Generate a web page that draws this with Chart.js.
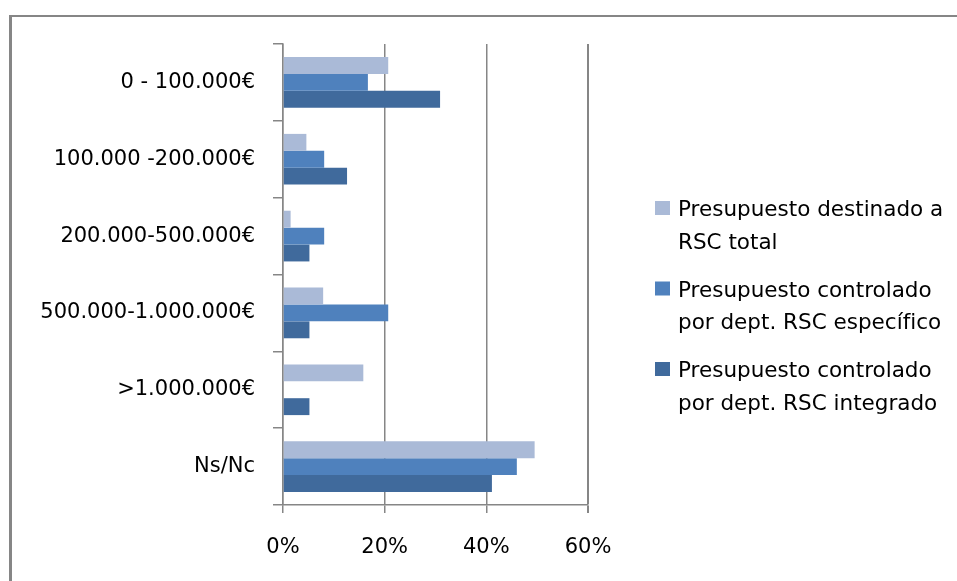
<!DOCTYPE html>
<html lang="es">
<head>
<meta charset="utf-8">
<title>Presupuesto RSC</title>
<script src="https://cdn.jsdelivr.net/npm/chart.js@4.4.1/dist/chart.umd.min.js"></script>
<style>
  html, body { margin: 0; padding: 0; background: #ffffff; }
  canvas { display: block; }
</style>
</head>
<body>
<canvas id="chart" width="957" height="581"></canvas>
<script>
// Budget ranges (y axis)
const categories = [
  '0 - 100.000€',
  '100.000 -200.000€',
  '200.000-500.000€',
  '500.000-1.000.000€',
  '>1.000.000€',
  'Ns/Nc'
];

// Share of companies per range, in %
const presupuestoTotal      = [20.7, 4.6, 1.5, 7.9, 15.8, 49.5];
const presupuestoEspecifico = [16.7, 8.1, 8.1, 20.7, 0, 46.0];
const presupuestoIntegrado  = [30.9, 12.6, 5.2, 5.2, 5.2, 41.1];

// Legend text, one entry per series, split in lines
const seriesLabels = [
  ['Presupuesto destinado a', 'RSC total'],
  ['Presupuesto controlado', 'por dept. RSC específico'],
  ['Presupuesto controlado', 'por dept. RSC integrado']
];

// X axis ticks, in %
const xTicks = [0, 20, 40, 60];

const seriesColors = ['#AABAD7', '#4F81BD', '#406A9C'];
const axisGray = '#868686';
const FONT = 'DejaVu Sans';

const seriesValues = [presupuestoTotal, presupuestoEspecifico, presupuestoIntegrado];

// Frame line around the chart (left and top edges)
const framePlugin = {
  id: 'frame',
  beforeDraw(chart) {
    const ctx = chart.ctx;
    ctx.save();
    ctx.fillStyle = '#ffffff';
    ctx.fillRect(0, 0, chart.width, chart.height);
    ctx.strokeStyle = axisGray;
    ctx.lineWidth = 3;
    ctx.beginPath();
    ctx.moveTo(10.5, chart.height);
    ctx.lineTo(10.5, 15);
    ctx.stroke();
    ctx.lineWidth = 2;
    ctx.beginPath();
    ctx.moveTo(9, 16);
    ctx.lineTo(chart.width, 16);
    ctx.stroke();
    ctx.restore();
  }
};

// Two-line legend on the right side
const sideLegendPlugin = {
  id: 'sideLegend',
  afterDraw(chart) {
    const ctx = chart.ctx;
    const boxX = 655, textX = 678;
    const firstBaseline = 216, itemGap = 80.5, lineGap = 32.5;
    ctx.save();
    ctx.font = '21.5px "' + FONT + '"';
    ctx.textAlign = 'left';
    ctx.textBaseline = 'alphabetic';
    chart.data.datasets.forEach((ds, i) => {
      const base = firstBaseline + i * itemGap;
      ctx.fillStyle = ds.backgroundColor;
      ctx.fillRect(boxX, base - 15, 15, 14);
      ctx.fillStyle = '#000000';
      ds.legendLines.forEach((line, j) => {
        ctx.fillText(line, textX, base + j * lineGap);
      });
    });
    ctx.restore();
  }
};

new Chart(document.getElementById('chart'), {
  type: 'bar',
  data: {
    labels: categories,
    datasets: seriesValues.map((values, i) => ({
      label: seriesLabels[i].join(' '),
      legendLines: seriesLabels[i],
      data: values,
      backgroundColor: seriesColors[i],
      borderWidth: 0,
      categoryPercentage: 0.66,
      barPercentage: 1.0
    }))
  },
  options: {
    indexAxis: 'y',
    responsive: false,
    animation: false,
    layout: { padding: { top: 44, right: 369, left: 0, bottom: 0 } },
    plugins: {
      legend: { display: false },
      tooltip: { enabled: false },
      title: { display: false }
    },
    scales: {
      x: {
        min: 0,
        max: 60,
        afterBuildTicks(scale) {
          scale.ticks = xTicks.map(v => ({ value: v }));
        },
        afterFit(scale) { scale.height = 76; },
        ticks: {
          callback: v => v + '%',
          font: { family: FONT, size: 21 },
          color: '#000000',
          padding: 22
        },
        grid: {
          color: axisGray,
          lineWidth: ctx => (ctx.index === xTicks.length - 1 ? 2 : 1.5),
          drawTicks: true,
          tickLength: 8
        },
        border: { display: true, color: axisGray, width: 1.5 }
      },
      y: {
        afterFit(scale) { scale.width = 283; },
        ticks: {
          font: { family: FONT, size: 21 },
          color: '#000000',
          padding: 18
        },
        grid: {
          color: axisGray,
          lineWidth: 1.5,
          drawOnChartArea: false,
          drawTicks: true,
          tickLength: 10,
          offset: true
        },
        border: { display: true, color: axisGray, width: 1.5 }
      }
    }
  },
  plugins: [framePlugin, sideLegendPlugin]
});
</script>
</body>
</html>
